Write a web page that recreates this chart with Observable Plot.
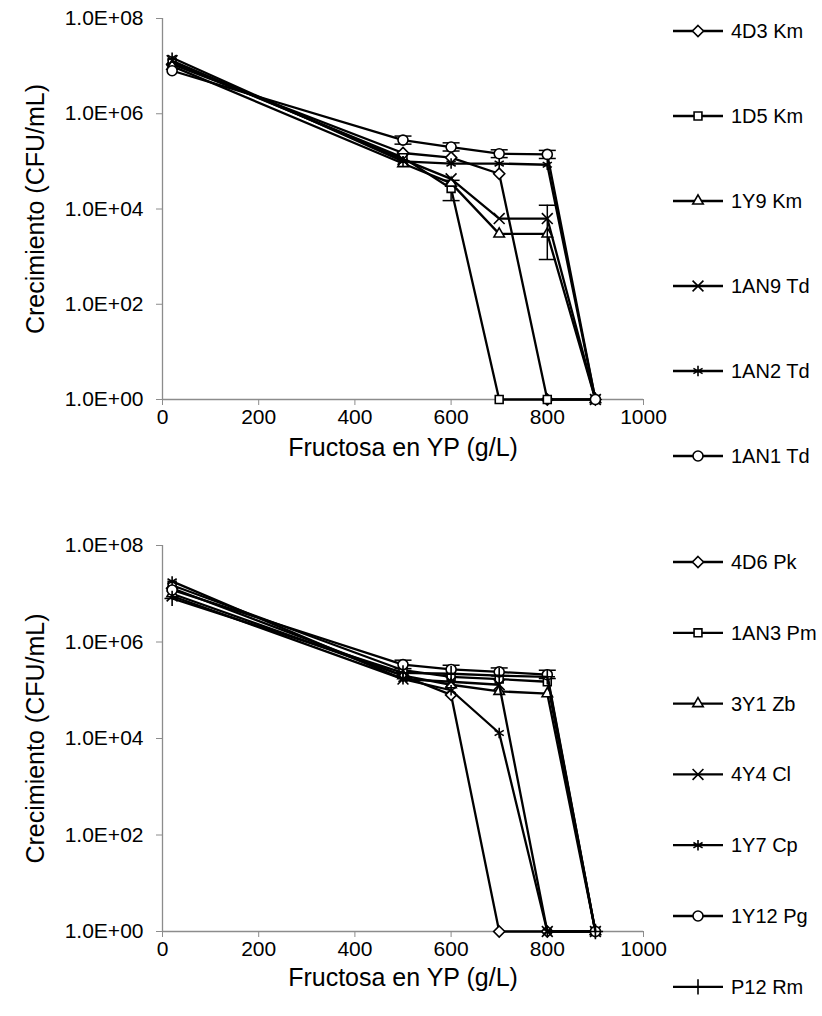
<!DOCTYPE html>
<html>
<head>
<meta charset="utf-8">
<script src="https://cdn.jsdelivr.net/npm/d3@7"></script>
<script src="https://cdn.jsdelivr.net/npm/@observablehq/plot@0.6"></script>
<style>
  body { margin: 0; background: #fff; font-family: "Liberation Sans", Arial, sans-serif; }
  #page { position: relative; width: 822px; height: 1016px; overflow: hidden; }
  #page > * { position: absolute; }
</style>
</head>
<body>
<div id="page"></div>
<script>
// Fructose concentration in YP medium (g/L)
const fructosa = [20, 500, 600, 700, 800, 900];
const xTicks = [0, 200, 400, 600, 800, 1000];
const yTicks = [1, 1e2, 1e4, 1e6, 1e8];

// Upper panel: strains and growth (CFU/mL)
const cepasA = ["4D3 Km", "1D5 Km", "1Y9 Km", "1AN9 Td", "1AN2 Td", "1AN1 Td"];
const simbolosA = ["diamond2", "square2", "triangle2", "times", "asterisk", "circle"];
const c4D3 = [1.1e7, 1.5e5, 1.2e5, 5.5e4, 1, 1];
const c1D5 = [1.2e7, 1.2e5, 2.7e4, 1, 1, 1];
const c1Y9 = [1.0e7, 9.0e4, 3.5e4, 3.0e3, 3.0e3, 1];
const c1AN9 = [1.3e7, 1.1e5, 4.3e4, 6.3e3, 6.3e3, 1];
const c1AN2 = [1.5e7, 1.0e5, 9.0e4, 9.0e4, 8.5e4, 1];
const c1AN1 = [8.0e6, 2.8e5, 2.0e5, 1.45e5, 1.4e5, 1];
const valoresA = [c4D3, c1D5, c1Y9, c1AN9, c1AN2, c1AN1];
// error bars: strain, fructose, lower, upper
const erroresA = [
  ["1D5 Km", 600, 1.5e4, 4.0e4],
  ["1AN9 Td", 800, 870, 1.2e4],
  ["1AN1 Td", 500, 2.3e5, 3.4e5],
  ["1AN1 Td", 600, 1.65e5, 2.45e5],
  ["1AN1 Td", 700, 1.2e5, 1.75e5],
  ["1AN1 Td", 800, 1.15e5, 1.7e5]
];

// Lower panel
const cepasB = ["4D6 Pk", "1AN3 Pm", "3Y1 Zb", "4Y4 Cl", "1Y7 Cp", "1Y12 Pg", "P12 Rm"];
const simbolosB = ["diamond2", "square2", "triangle2", "times", "asterisk", "circle", "plus"];
const c4D6 = [1.3e7, 2.0e5, 8.0e4, 1, 1, 1];
const c1AN3 = [1.5e7, 2.6e5, 1.9e5, 1.7e5, 1.5e5, 1];
const c3Y1 = [1.0e7, 2.0e5, 1.3e5, 9.5e4, 8.5e4, 1];
const c4Y4 = [9.0e6, 1.7e5, 1.5e5, 1.3e5, 1, 1];
const c1Y7 = [1.8e7, 1.7e5, 1.0e5, 1.3e4, 1, 1];
const c1Y12 = [1.2e7, 3.4e5, 2.7e5, 2.4e5, 2.1e5, 1];
const cP12 = [8.0e6, 2.3e5, 2.2e5, 2.0e5, 1.9e5, 1];
const valoresB = [c4D6, c1AN3, c3Y1, c4Y4, c1Y7, c1Y12, cP12];
const erroresB = [
  ["1Y12 Pg", 500, 2.8e5, 4.2e5],
  ["1Y12 Pg", 600, 2.2e5, 3.3e5],
  ["1Y12 Pg", 700, 2.0e5, 2.9e5],
  ["1Y12 Pg", 800, 1.75e5, 2.6e5]
];

const tituloX = "Fructosa en YP (g/L)";
const tituloY = "Crecimiento (CFU/mL)";

const gris = "#8c8c8c";
const formatoY = d => "1.0E+" + String(Math.round(Math.log10(d))).padStart(2, "0");
const tamTick = 21, tamTitulo = 25, tamLeyenda = 20;
const radio = 5;

// horizontal cap for error bars
const tapa = { draw(ctx, size) { const w = Math.sqrt(size) * 0.6; ctx.moveTo(-w, 0); ctx.lineTo(w, 0); } };

function grafico(cepas, simbolos, valores, errores, geo) {
  const marks = [
    Plot.ruleX([0], { stroke: gris, strokeWidth: 1.3 }),
    Plot.ruleY([1], { stroke: gris, strokeWidth: 1.3 }),
    Plot.axisY({ ticks: yTicks, tickFormat: formatoY, tickSize: 6, tickPadding: 13, stroke: gris, fill: "black", fontSize: tamTick, label: null }),
    Plot.axisX({ ticks: xTicks, tickFormat: d => String(d), tickSize: 6, tickPadding: 4, stroke: gris, fill: "black", fontSize: tamTick, label: null }),
    Plot.text([tituloY], { frameAnchor: "left", dx: -127, rotate: -90, textAnchor: "middle", lineAnchor: "middle", fontSize: tamTitulo, fill: "black" }),
    Plot.text([tituloX], { frameAnchor: "bottom", dy: geo.dyTitulo, lineAnchor: "middle", fontSize: tamTitulo, fill: "black" })
  ];
  cepas.forEach((cepa, i) => {
    const filas = fructosa.map((x, j) => ({ x, y: valores[i][j] }));
    const errs = errores.filter(e => e[0] === cepa).map(e => ({ x: e[1], lo: e[2], hi: e[3] }));
    marks.push(Plot.line(filas, { x: "x", y: "y", stroke: "black", strokeWidth: 2.3 }));
    if (errs.length) {
      marks.push(Plot.ruleX(errs, { x: "x", y1: "lo", y2: "hi", stroke: "black", strokeWidth: 1.5 }));
      marks.push(Plot.dot(errs, { x: "x", y: "lo", symbol: tapa, r: 8, stroke: "black", strokeWidth: 1.5 }));
      marks.push(Plot.dot(errs, { x: "x", y: "hi", symbol: tapa, r: 8, stroke: "black", strokeWidth: 1.5 }));
    }
    marks.push(Plot.dot(filas, { x: "x", y: "y", symbol: simbolos[i], r: radio, stroke: "black", strokeWidth: 1.6, fill: "white" }));
  });
  return Plot.plot({
    width: 665,
    height: geo.height,
    marginLeft: 162,
    marginRight: 22,
    marginTop: geo.top,
    marginBottom: geo.bottom,
    style: { fontFamily: "Liberation Sans, Arial, sans-serif", background: "white", overflow: "visible", color: "black" },
    x: { domain: [0, 1000] },
    y: { type: "log", domain: [1, 1e8] },
    marks
  });
}

const tiposD3 = {
  diamond2: d3.symbolDiamond2, square2: d3.symbolSquare2, triangle2: d3.symbolTriangle2,
  times: d3.symbolTimes, asterisk: d3.symbolAsterisk, circle: d3.symbolCircle, plus: d3.symbolPlus
};

function leyenda(svg, cepas, simbolos, y0, paso) {
  cepas.forEach((cepa, i) => {
    const g = svg.append("g").attr("transform", `translate(0,${y0 + i * paso})`);
    g.append("line").attr("x1", 13).attr("x2", 63).attr("stroke", "black").attr("stroke-width", 2.3);
    g.append("path")
      .attr("transform", "translate(38,0)")
      .attr("d", d3.symbol(tiposD3[simbolos[i]], Math.PI * radio * radio)())
      .attr("fill", "white").attr("stroke", "black").attr("stroke-width", 1.6);
    g.append("text").attr("x", 71).attr("dy", "0.35em")
      .attr("font-size", tamLeyenda).attr("fill", "black").text(cepa);
  });
}

const page = document.getElementById("page");

const arriba = grafico(cepasA, simbolosA, valoresA, erroresA, { height: 470, top: 18, bottom: 71, dyTitulo: 48 });
arriba.style.left = "0px"; arriba.style.top = "0px";
page.appendChild(arriba);

const abajo = grafico(cepasB, simbolosB, valoresB, erroresB, { height: 546, top: 75, bottom: 85, dyTitulo: 46 });
abajo.style.left = "0px"; abajo.style.top = "470px";
page.appendChild(abajo);

const ley = d3.create("svg").attr("width", 162).attr("height", 1016)
  .style("left", "660px").style("top", "0px")
  .style("font-family", "Liberation Sans, Arial, sans-serif");
leyenda(ley, cepasA, simbolosA, 31, 85);
leyenda(ley, cepasB, simbolosB, 562, 70.8);
page.appendChild(ley.node());
</script>
</body>
</html>
